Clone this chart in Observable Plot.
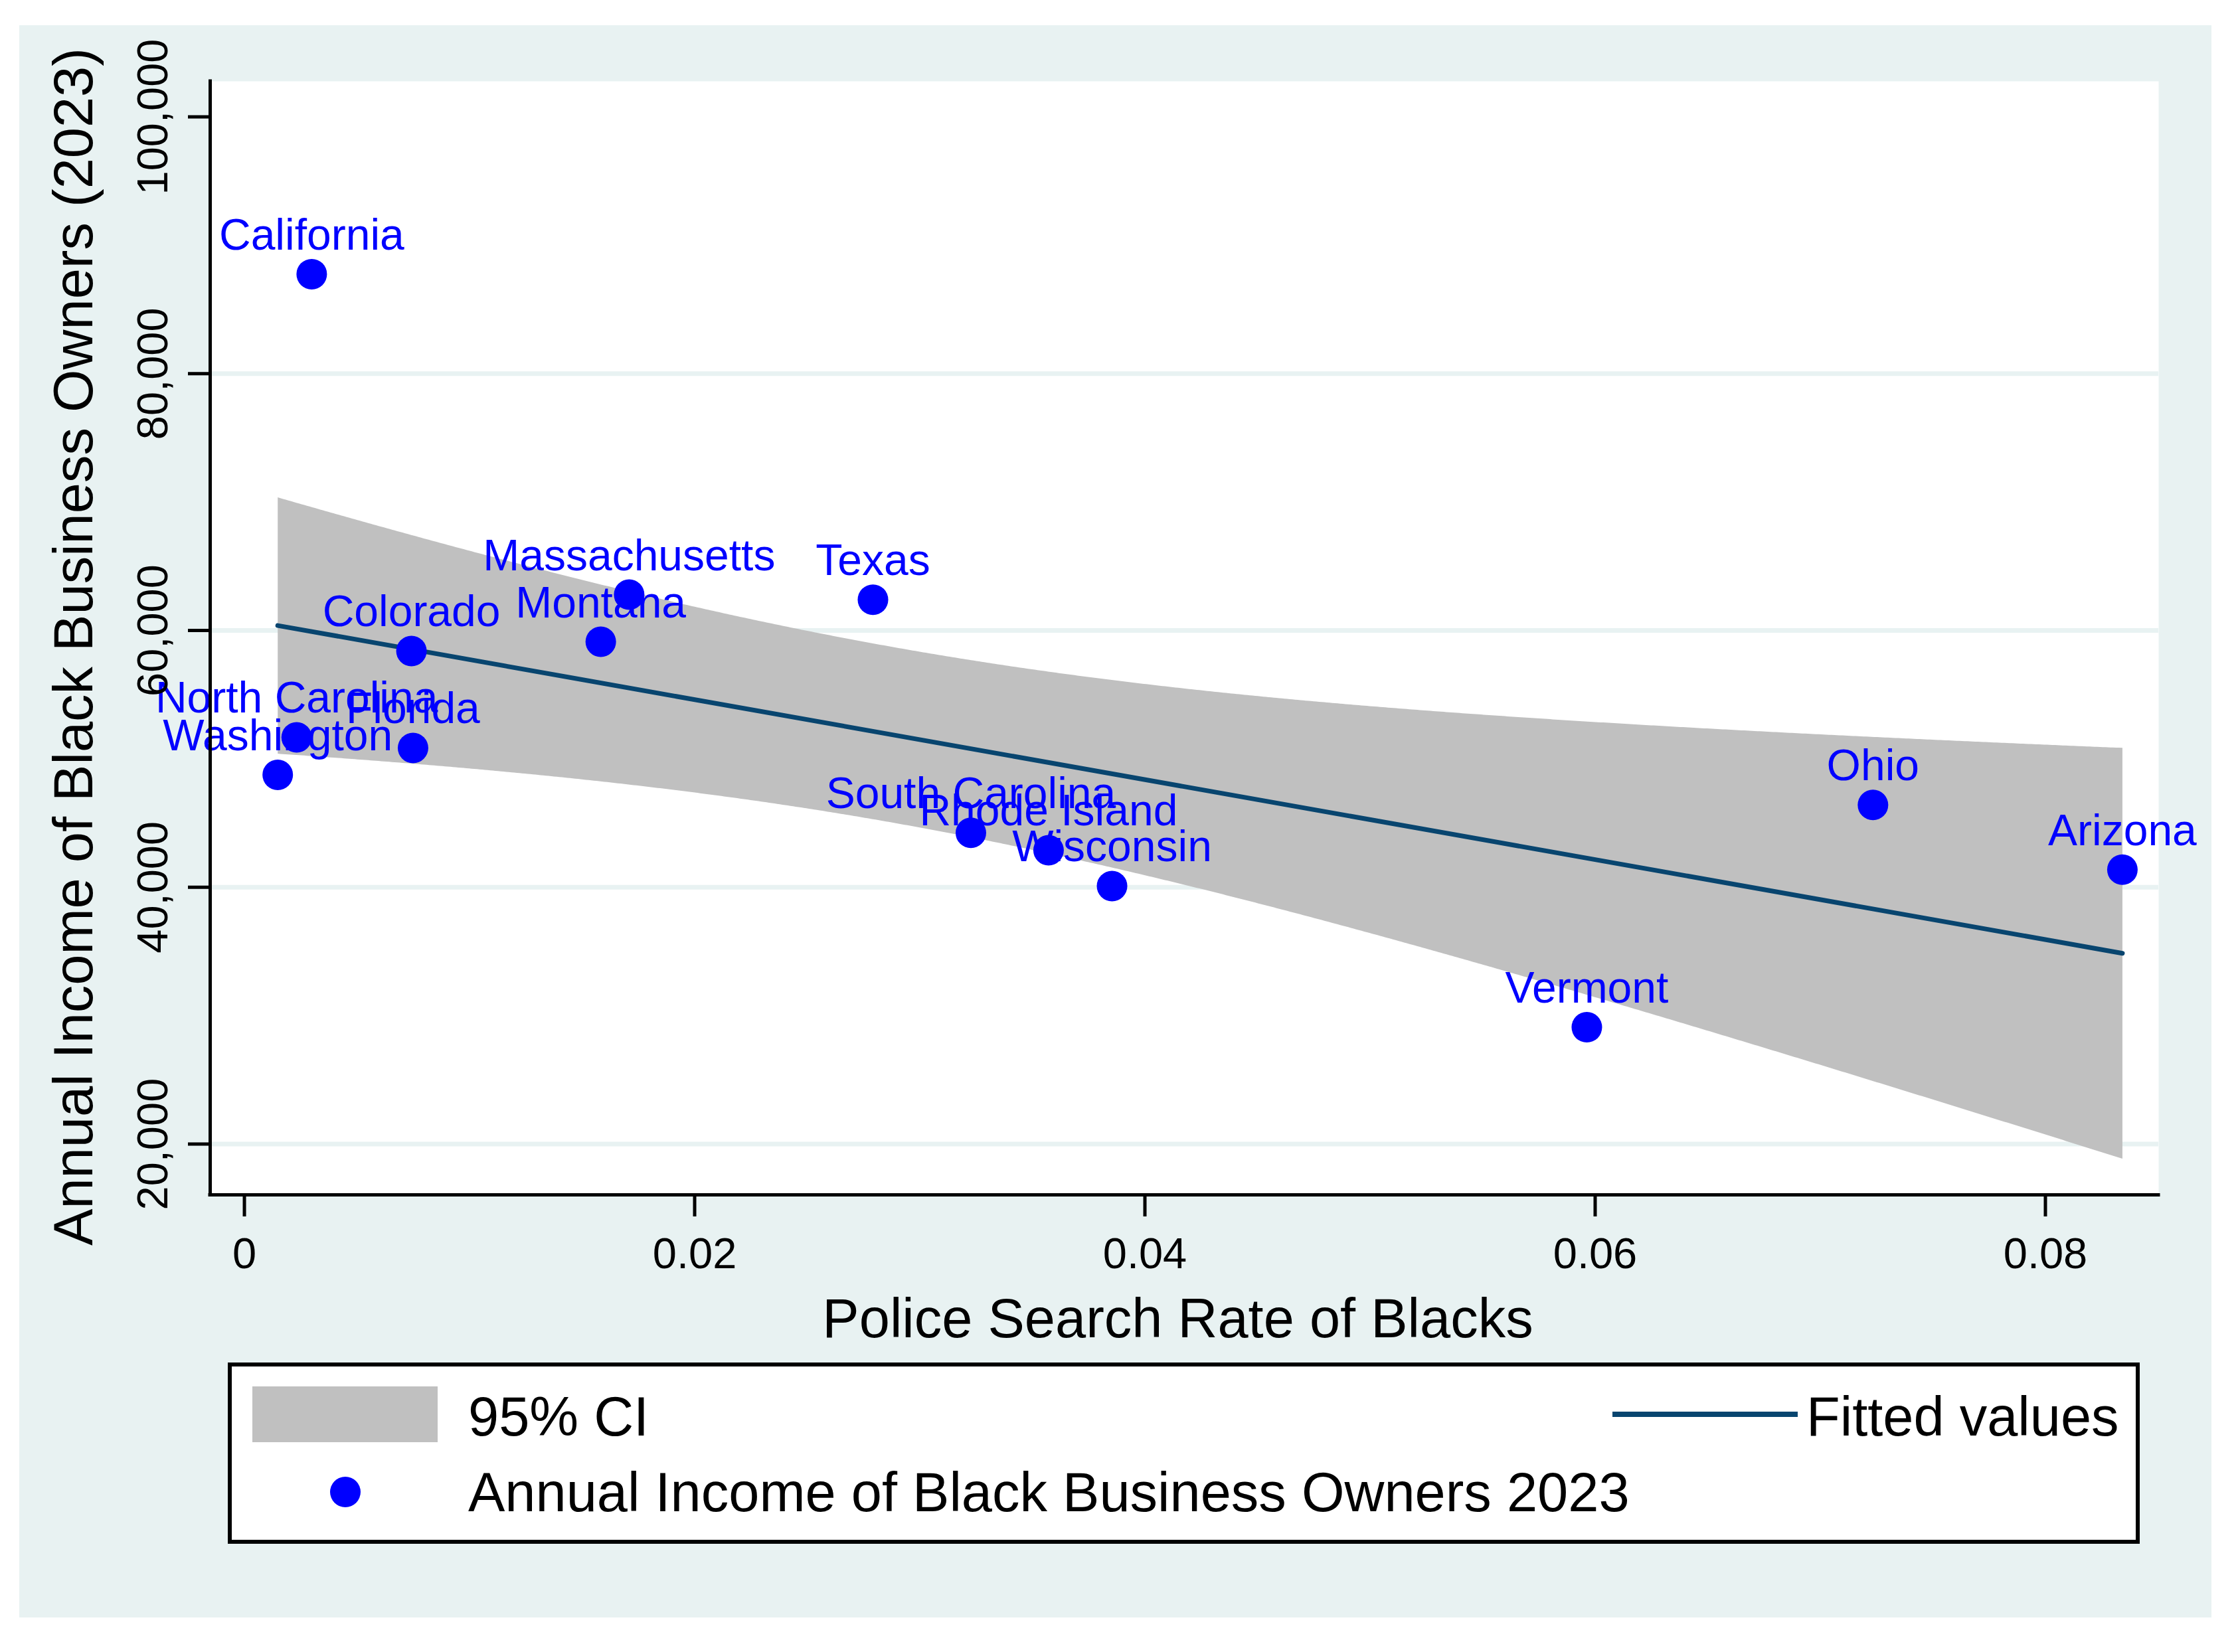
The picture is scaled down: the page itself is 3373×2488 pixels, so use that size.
<!DOCTYPE html>
<html>
<head>
<meta charset="utf-8">
<script src="https://cdn.jsdelivr.net/npm/d3@7"></script>
<script src="https://cdn.jsdelivr.net/npm/@observablehq/plot@0.6"></script>
<style>
  html, body { margin: 0; padding: 0; background: #ffffff; }
  #wrap { position: relative; width: 3373px; height: 2488px; overflow: hidden; font-family: "Liberation Sans", Arial, sans-serif; }
  #panel { position: absolute; left: 29px; top: 38px; width: 3301px; height: 2398px; background: #e8f2f2; }
  #chart { position: absolute; left: 0; top: 0; }
  #legend { position: absolute; left: 0; top: 0; }
</style>
</head>
<body>
<div id="wrap">
  <div id="panel"></div>
  <div id="chart"></div>
  <svg id="legend" width="3373" height="2488"></svg>
</div>
<script>
// ---- data ----
const states = ["California", "Colorado", "Montana", "Massachusetts", "North Carolina", "Florida", "Washington",
                "Texas", "South Carolina", "Rhode Island", "Wisconsin", "Vermont", "Ohio", "Arizona"];
const searchRate = [0.00299, 0.00742, 0.01583, 0.01709, 0.00232, 0.00749, 0.00148,
                    0.02792, 0.03227, 0.03572, 0.03854, 0.05963, 0.07234, 0.08342];
const income = [87750, 58400, 59120, 62790, 51680, 50850, 48760,
                62400, 44240, 42890, 40100, 29100, 46410, 41370];

const xTicks = [0, 0.02, 0.04, 0.06, 0.08];
const xTickLabels = ["0", "0.02", "0.04", "0.06", "0.08"];
const yTicks = [20000, 40000, 60000, 80000, 100000];
const yTickLabels = ["20,000", "40,000", "60,000", "80,000", "100,000"];
const yGrid = [20000, 40000, 60000, 80000];

const xTitle = "Police Search Rate of Blacks";
const yTitle = "Annual Income of Black Business Owners (2023)";
const legendLabels = ["95% CI", "Fitted values", "Annual Income of Black Business Owners 2023"];

// ---- build ----
const data = states.map((s, i) => ({state: s, rate: searchRate[i], income: income[i]}));
const font = '"Liberation Sans", Arial, sans-serif';
const bg = "#e8f2f2", ciGray = "#c0c0c0", fitColor = "#08456f", dotColor = "#0000ff";
const xDomain = [-0.00152, 0.08503];
const yDomain = [16050, 102765];

const chart = Plot.plot({
  width: 3373,
  height: 2488,
  marginLeft: 316,
  marginRight: 123,
  marginTop: 122,
  marginBottom: 689,
  style: {background: "transparent", fontFamily: font, overflow: "visible", color: "black"},
  x: {domain: xDomain},
  y: {domain: yDomain},
  marks: [
    Plot.frame({fill: "white", stroke: "none"}),
    Plot.gridY(yGrid, {stroke: bg, strokeOpacity: 1, strokeWidth: 7}),
    Plot.linearRegressionY(data, {x: "rate", y: "income", ci: 0.95, fill: ciGray, fillOpacity: 1,
                                   stroke: fitColor, strokeWidth: 7}),
    Plot.dot(data, {x: "rate", y: "income", r: 23, fill: dotColor, stroke: "none"}),
    Plot.text(data, {x: "rate", y: "income", text: "state", dy: -37, lineAnchor: "bottom",
                     fill: dotColor, fontSize: 66, fontFamily: font}),
    Plot.ruleX([xDomain[0]], {stroke: "black", strokeWidth: 5, strokeLinecap: "square"}),
    Plot.ruleY([yDomain[0]], {stroke: "black", strokeWidth: 5, strokeLinecap: "square"}),
    Plot.axisX({ticks: xTicks, tickSize: 33, tickPadding: 31, stroke: "black", strokeWidth: 5,
                fontSize: 65, fill: "black", label: null,
                tickFormat: d => xTickLabels[xTicks.indexOf(d)]}),
    Plot.axisY({ticks: yTicks, tickSize: 33, tickPadding: 32, tickRotate: -90, stroke: "black", strokeWidth: 5,
                fontSize: 65, fill: "black", label: null, textAnchor: "middle", lineAnchor: "bottom",
                tickFormat: d => yTickLabels[yTicks.indexOf(d)]}),
    Plot.text([xTitle], {frameAnchor: "bottom", dx: -10, dy: 214, lineAnchor: "bottom", textAnchor: "middle",
                         fontSize: 83, fill: "black", fontFamily: font}),
    Plot.text([yTitle], {frameAnchor: "left", dx: -178, dy: 13, rotate: -90, lineAnchor: "bottom",
                         textAnchor: "middle", fontSize: 83, fill: "black", fontFamily: font})
  ]
});
document.getElementById("chart").appendChild(chart);

// ---- legend ----
const lg = d3.select("#legend");
lg.append("rect").attr("x", 346).attr("y", 2055).attr("width", 2873).attr("height", 267)
  .attr("fill", "white").attr("stroke", "black").attr("stroke-width", 6);
lg.append("rect").attr("x", 380).attr("y", 2088).attr("width", 279).attr("height", 84).attr("fill", ciGray);
lg.append("line").attr("x1", 2428).attr("x2", 2707).attr("y1", 2130).attr("y2", 2130)
  .attr("stroke", fitColor).attr("stroke-width", 8);
lg.append("circle").attr("cx", 520).attr("cy", 2247).attr("r", 23).attr("fill", dotColor);
const lt = [[705, 2162, legendLabels[0]], [2720, 2162, legendLabels[1]], [705, 2276, legendLabels[2]]];
lg.selectAll("text.lt").data(lt).join("text").attr("class", "lt")
  .attr("x", d => d[0]).attr("y", d => d[1]).text(d => d[2])
  .attr("font-family", font).attr("font-size", 83).attr("fill", "black");
</script>
</body>
</html>
